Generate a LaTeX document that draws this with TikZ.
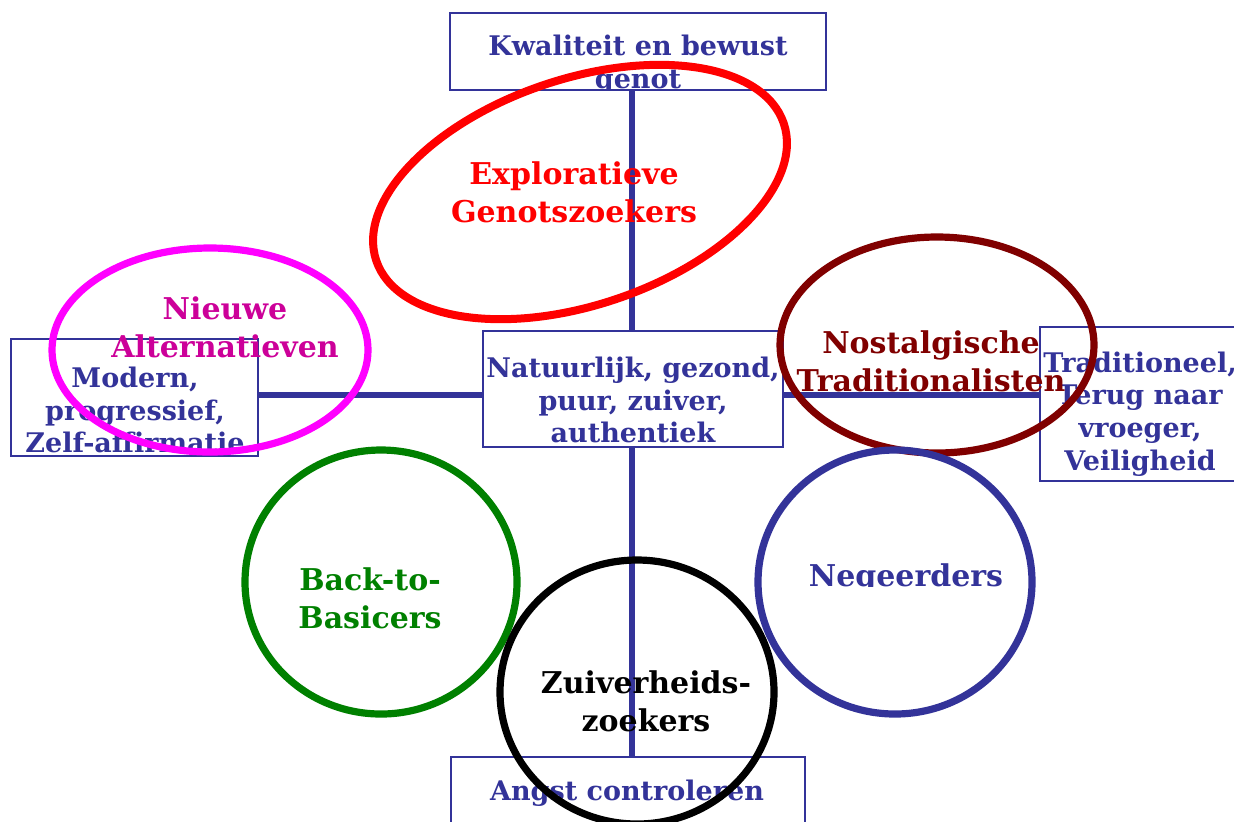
\documentclass[tikz,border=0pt]{standalone}
\usepackage{fontspec}
\setmainfont{DejaVu Serif}
\usetikzlibrary{shapes.geometric}
\definecolor{navy}{HTML}{333399}
\definecolor{magline}{HTML}{FF00FF}
\definecolor{magtext}{HTML}{CC0099}
\definecolor{maroon}{HTML}{800000}
\definecolor{dgreen}{HTML}{008000}
\begin{document}
\begin{tikzpicture}[x=0.5pt,y=-0.5pt,
  box/.style={draw=navy, line width=0.9pt, fill=white, inner sep=0pt},
  boxtext/.style={text=navy, align=center, inner sep=0pt, font=\bfseries\fontsize{13.5}{16.4}\selectfont},
  conn/.style={draw=navy, line width=3pt},
  ring/.style={ellipse, draw, line width=3.6pt, inner sep=0pt},
  label/.style={align=center, inner sep=0pt, font=\bfseries\fontsize{15}{19}\selectfont}]
\useasboundingbox (0,0) rectangle (1234,821);
% boxes
\node[box, minimum width=188pt, minimum height=38.5pt] (top) at (638,51.5) {};
\node[box, minimum width=123.5pt, minimum height=58.5pt] (left) at (134.5,397.5) {};
\node[box, minimum width=150pt, minimum height=58pt] (mid) at (633,389) {};
\node[box, minimum width=105pt, minimum height=77pt] (right) at (1145,404) {};
\node[box, minimum width=177pt, minimum height=41.5pt] (bot) at (628,798.5) {};
% box texts
\begin{scope}
\clip (450,13) rectangle (826,90);
\node[boxtext] (topT) at (638,65) {Kwaliteit en bewust\\genot};
\end{scope}
\begin{scope}
\clip (11,339) rectangle (258,456);
\node[boxtext] (leftT) at (135,410) {Modern,\\progressief,\\Zelf-affirmatie};
\end{scope}
\node[boxtext] (midT) at (633,400) {Natuurlijk, gezond,\\puur, zuiver,\\authentiek};
\node[boxtext] (rightT) at (1140,414) {Traditioneel,\\Terug naar\\vroeger,\\Veiligheid};
\node[boxtext] (botT) at (627,793) {Angst controleren};
% connectors
\coordinate (vx) at (632,395);
\draw[conn] (top.south -| vx) -- (mid.north -| vx);
\draw[conn] (mid.south -| vx) -- (bot.north -| vx);
\draw[conn] (left.east |- vx) -- (mid.west |- vx);
\draw[conn] (mid.east |- vx) -- (right.west |- vx);
% rings
\node[ring, draw=red, line width=4pt, minimum width=215pt, minimum height=113pt, rotate=18.6] (expl) at (580,192) {};
\node[ring, draw=magline, minimum width=158pt, minimum height=102pt] (nieuw) at (210,350) {};
\node[ring, draw=maroon, minimum width=157pt, minimum height=108pt] (nost) at (937,345) {};
\node[ring, draw=dgreen, minimum width=136pt, minimum height=132pt] (back) at (381,582) {};
\node[ring, draw=navy, minimum width=137pt, minimum height=132pt] (neg) at (895,582) {};
\node[ring, draw=black, minimum width=137pt, minimum height=132pt] (zuiv) at (637,692) {};
% labels
\node[label, text=red] (explT) at (574,192) {Exploratieve\\Genotszoekers};
\node[label, text=magtext] (nieuwT) at (225,327) {Nieuwe\\Alternatieven};
\node[label, text=maroon] (nostT) at (931,361) {Nostalgische\\Traditionalisten};
\node[label, text=dgreen] (backT) at (370,598) {Back-to-\\Basicers};
\begin{scope}
\clip (750,540) rectangle (1040,586);
\node[label, text=navy] (negT) at (906,578) {Negeerders};
\end{scope}
\node[label, text=black] (zuivT) at (646,701) {Zuiverheids-\\zoekers};
\end{tikzpicture}
\end{document}
